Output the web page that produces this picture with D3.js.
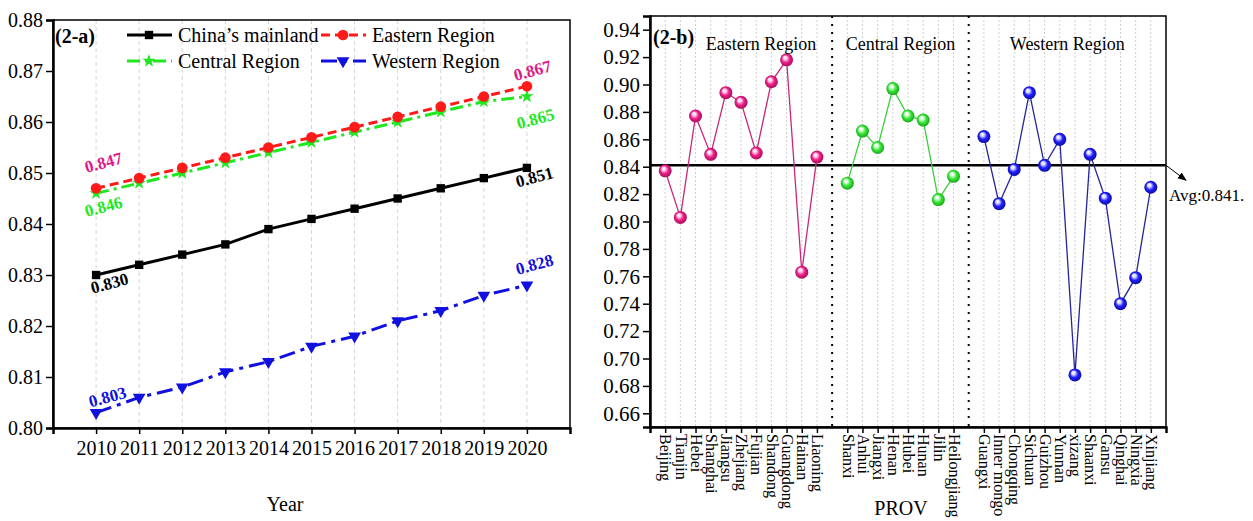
<!DOCTYPE html>
<html>
<head>
<meta charset="utf-8">
<script src="https://cdn.jsdelivr.net/npm/d3@7"></script>
<style>
    body { margin: 0; background: #fff; }
    svg, svg text { font-family: "Liberation Serif", "Times New Roman", serif; }
</style>
</head>
<body>
<svg id="chart" width="1253" height="521"></svg>
<script>
// ---- data: panel (2-a) ----
const years = [2010, 2011, 2012, 2013, 2014, 2015, 2016, 2017, 2018, 2019, 2020];
const mainland = [0.830, 0.832, 0.834, 0.836, 0.839, 0.841, 0.843, 0.845, 0.847, 0.849, 0.851];
const eastern = [0.847, 0.849, 0.851, 0.853, 0.855, 0.857, 0.859, 0.861, 0.863, 0.865, 0.867];
const central = [0.846, 0.848, 0.850, 0.852, 0.854, 0.856, 0.858, 0.860, 0.862, 0.864, 0.865];
const western = [0.803, 0.806, 0.808, 0.811, 0.813, 0.816, 0.818, 0.821, 0.823, 0.826, 0.828];
const yTicksA = [0.80, 0.81, 0.82, 0.83, 0.84, 0.85, 0.86, 0.87, 0.88];

// ---- data: panel (2-b) ----
const eastProv = ["Beijing", "Tianjin", "Hebei", "Shanghai", "Jiangsu", "Zhejiang", "Fujian", "Shandong", "Guangdong", "Hainan", "Liaoning"];
const eastVals = [0.837, 0.803, 0.877, 0.849, 0.894, 0.887, 0.850, 0.902, 0.918, 0.763, 0.847];
const centProv = ["Shanxi", "Anhui", "Jiangxi", "Henan", "Hubei", "Hunan", "Jilin", "Heilongjiang"];
const centVals = [0.828, 0.866, 0.854, 0.897, 0.877, 0.874, 0.816, 0.833];
const westProv = ["Guangxi", "Inner mongo", "Chongqing", "Sichuan", "Guizhou", "Yunnan", "xizang", "Shaanxi", "Gansu", "Qinghai", "Ningxia", "Xinjiang"];
const westVals = [0.862, 0.813, 0.838, 0.894, 0.841, 0.860, 0.688, 0.849, 0.817, 0.740, 0.759, 0.825];
const regionNames = ["Eastern Region", "Central Region", "Western Region"];
const avgValue = 0.841;
const yTicksB = [0.66, 0.68, 0.70, 0.72, 0.74, 0.76, 0.78, 0.80, 0.82, 0.84, 0.86, 0.88, 0.90, 0.92, 0.94];

const FONT = "'Liberation Serif', 'Times New Roman', serif";
const svg = d3.select("#chart");

drawPanelA();
drawPanelB();

function drawPanelA() {
    const left = 53, right = 570, top = 20, bottom = 428;
    const x = d3.scaleLinear().domain([2009, 2021]).range([left, right]);
    const y = d3.scaleLinear().domain([0.80, 0.88]).range([bottom, top]);
    const g = svg.append("g");

    // grid
    g.selectAll("line.grid").data(years).join("line")
        .attr("x1", d => x(d)).attr("x2", d => x(d))
        .attr("y1", top).attr("y2", bottom)
        .attr("stroke", "#d6d6d6").attr("stroke-width", 1)
        .attr("stroke-dasharray", "4,3");

    // frame
    g.append("rect")
        .attr("x", left).attr("y", top)
        .attr("width", right - left).attr("height", bottom - top)
        .attr("fill", "none").attr("stroke", "#000").attr("stroke-width", 1.5);

    const xAxis = g.append("g")
        .attr("transform", `translate(0,${bottom})`)
        .call(d3.axisBottom(x).tickValues(years).tickFormat(d3.format("d")).tickSizeOuter(0).tickSize(6))
        .attr("font-family", FONT);
    xAxis.selectAll("text").attr("font-size", 20).attr("fill", "#000").attr("dy", "0.9em");
    xAxis.select(".domain").attr("stroke-width", 2.5);

    const yAxis = g.append("g")
        .attr("transform", `translate(${left},0)`)
        .call(d3.axisLeft(y).tickValues(yTicksA).tickFormat(d3.format(".2f")).tickSizeOuter(0).tickSize(7))
        .attr("font-family", FONT);
    yAxis.selectAll("text").attr("font-size", 20).attr("fill", "#000");
    yAxis.select(".domain").attr("stroke-width", 2.5);
    g.selectAll(".tick line").attr("stroke-width", 1.5);

    const series = [
        { name: "China\u2019s mainland", vals: mainland, color: "#000", dash: null, marker: "square", labelColor: "#000" },
        { name: "Eastern Region", vals: eastern, color: "#ff1a1a", dash: "9,5", marker: "circle", labelColor: "#e0198a" },
        { name: "Central Region", vals: central, color: "#1ee81e", dash: "13,5,3,5", marker: "star", labelColor: "#1ee81e" },
        { name: "Western Region", vals: western, color: "#1010e0", dash: "16,6,4,6", marker: "triangle", labelColor: "#1010e0" }
    ];
    const symbols = {
        square: d3.symbol(d3.symbolSquare, 70),
        circle: d3.symbol(d3.symbolCircle, 90),
        star: d3.symbol(d3.symbolStar, 55),
        triangle: d3.symbol(d3.symbolTriangle, 70)
    };

    const line = d3.line().x((d, i) => x(years[i])).y(d => y(d));

    // draw back to front: western, mainland, central, eastern
    [3, 0, 2, 1].forEach(k => {
        const s = series[k];
        g.append("path").datum(s.vals)
            .attr("d", line)
            .attr("fill", "none")
            .attr("stroke", s.color)
            .attr("stroke-width", 3)
            .attr("stroke-dasharray", s.dash);
        g.selectAll(null).data(s.vals).join("path")
            .attr("d", symbols[s.marker])
            .attr("transform", (d, i) => `translate(${x(years[i])},${y(d)})` + (s.marker === "triangle" ? " rotate(180)" : ""))
            .attr("fill", s.color);
    });

    // end labels: [series index, point index, dx, dy]
    const labelSpots = [
        [1, 0, 8, -24], [2, 0, 8, 15], [0, 0, 14, 10], [3, 0, 12, -14],
        [1, 10, 6, -14], [2, 10, 9, 24], [0, 10, 8, 11], [3, 10, 8, -19]
    ];
    labelSpots.forEach(([k, i, dx, dy]) => {
        const s = series[k];
        const px = x(years[i]) + dx, py = y(s.vals[i]) + dy;
        g.append("text")
            .attr("transform", `translate(${px},${py}) rotate(-15)`)
            .attr("text-anchor", "middle")
            .attr("dominant-baseline", "middle")
            .attr("font-size", 17).attr("font-weight", "bold")
            .attr("fill", s.labelColor)
            .text(d3.format(".3f")(s.vals[i]));
    });

    // legend
    const legendPos = [[127, 35], [321, 35], [127, 61], [321, 61]];
    series.forEach((s, k) => {
        const [lx, ly] = legendPos[k];
        const lg = g.append("g").attr("transform", `translate(${lx},${ly})`);
        lg.append("line").attr("x1", 0).attr("x2", 45).attr("y1", 0).attr("y2", 0)
            .attr("stroke", s.color).attr("stroke-width", 3).attr("stroke-dasharray", s.dash);
        lg.append("path").attr("d", symbols[s.marker])
            .attr("transform", `translate(22,0)` + (s.marker === "triangle" ? " rotate(180)" : ""))
            .attr("fill", s.color);
        lg.append("text").attr("x", 51).attr("y", 0).attr("dy", "0.33em")
            .attr("font-size", 20).text(s.name);
    });

    g.append("text").attr("x", 55).attr("y", 36).attr("dy", "0.35em")
        .attr("font-size", 20).attr("font-weight", "bold").text("(2-a)");
    g.append("text").attr("x", 285).attr("y", 511).attr("text-anchor", "middle")
        .attr("font-size", 20).text("Year");
}

function drawPanelB() {
    const left = 650, right = 1166, top = 16, bottom = 427;
    const domain = [...eastProv, "|1", ...centProv, "|2", ...westProv];
    const x = d3.scalePoint().domain(domain).range([left, right]).padding(1);
    const y = d3.scaleLinear().domain([0.65, 0.95]).range([bottom, top]);
    const provs = [...eastProv, ...centProv, ...westProv];
    const g = svg.append("g");

    // gradients for balls
    const defs = svg.append("defs");
    const ballColors = [
        { id: "ballE", light: "#ffd0ea", mid: "#f0208a", dark: "#9a0a50" },
        { id: "ballC", light: "#e0ffe0", mid: "#38e838", dark: "#149a14" },
        { id: "ballW", light: "#d8d8ff", mid: "#2020ff", dark: "#0a0a90" }
    ];
    ballColors.forEach(c => {
        const rg = defs.append("radialGradient").attr("id", c.id)
            .attr("cx", "50%").attr("cy", "50%").attr("r", "55%")
            .attr("fx", "35%").attr("fy", "30%");
        rg.append("stop").attr("offset", "0%").attr("stop-color", "#fff");
        rg.append("stop").attr("offset", "25%").attr("stop-color", c.light);
        rg.append("stop").attr("offset", "55%").attr("stop-color", c.mid);
        rg.append("stop").attr("offset", "100%").attr("stop-color", c.dark);
    });

    // grid
    g.selectAll("line.grid").data(provs).join("line")
        .attr("x1", d => x(d)).attr("x2", d => x(d))
        .attr("y1", top).attr("y2", bottom)
        .attr("stroke", "#cfcfcf").attr("stroke-width", 1)
        .attr("stroke-dasharray", "2,2");

    // region dividers
    g.selectAll("line.div").data(["|1", "|2"]).join("line")
        .attr("x1", d => x(d)).attr("x2", d => x(d))
        .attr("y1", top).attr("y2", bottom)
        .attr("stroke", "#000").attr("stroke-width", 2)
        .attr("stroke-dasharray", "2,6");

    // frame
    g.append("rect")
        .attr("x", left).attr("y", top)
        .attr("width", right - left).attr("height", bottom - top)
        .attr("fill", "none").attr("stroke", "#000").attr("stroke-width", 1.5);

    const xAxis = g.append("g")
        .attr("transform", `translate(0,${bottom})`)
        .call(d3.axisBottom(x).tickValues(provs).tickSizeOuter(0).tickSize(6))
        .attr("font-family", FONT);
    xAxis.selectAll("text")
        .attr("font-size", 16).attr("fill", "#000")
        .attr("transform", "rotate(90)")
        .attr("text-anchor", "start")
        .attr("x", 7).attr("y", 0).attr("dy", "0.33em");
    xAxis.select(".domain").attr("stroke-width", 2.5);

    const yAxis = g.append("g")
        .attr("transform", `translate(${left},0)`)
        .call(d3.axisLeft(y).tickValues(yTicksB).tickFormat(d3.format(".2f")).tickSizeOuter(0).tickSize(7))
        .attr("font-family", FONT);
    yAxis.selectAll("text").attr("font-size", 21).attr("fill", "#000");
    yAxis.select(".domain").attr("stroke-width", 2.5);
    g.selectAll(".tick line").attr("stroke-width", 1.5);

    // average line
    g.append("line")
        .attr("x1", left).attr("x2", right)
        .attr("y1", y(avgValue)).attr("y2", y(avgValue))
        .attr("stroke", "#000").attr("stroke-width", 2.5);

    defs.append("marker").attr("id", "arrow")
        .attr("viewBox", "0 0 10 10").attr("refX", 9).attr("refY", 5)
        .attr("markerWidth", 9).attr("markerHeight", 9).attr("orient", "auto")
        .append("path").attr("d", "M0,1 L10,5 L0,9 Z").attr("fill", "#000");
    g.append("line")
        .attr("x1", right).attr("y1", y(avgValue))
        .attr("x2", right + 20).attr("y2", y(avgValue) + 15)
        .attr("stroke", "#000").attr("stroke-width", 1)
        .attr("marker-end", "url(#arrow)");
    g.append("text").attr("x", right + 3).attr("y", y(avgValue) + 36)
        .attr("font-size", 17).text("Avg:" + d3.format(".3f")(avgValue) + ".");

    const groups = [
        { names: eastProv, vals: eastVals, line: "#c8287c", ball: "ballE" },
        { names: centProv, vals: centVals, line: "#3ccf3c", ball: "ballC" },
        { names: westProv, vals: westVals, line: "#24249c", ball: "ballW" }
    ];
    const titleShift = [20, 0, 0];
    groups.forEach((grp, k) => {
        const pts = grp.names.map((n, i) => [x(n), y(grp.vals[i])]);
        g.append("path").datum(pts)
            .attr("d", d3.line())
            .attr("fill", "none").attr("stroke", grp.line).attr("stroke-width", 1.3);
        g.selectAll(null).data(pts).join("circle")
            .attr("cx", d => d[0]).attr("cy", d => d[1]).attr("r", 6.5)
            .attr("fill", `url(#${grp.ball})`);
        const cx = (x(grp.names[0]) + x(grp.names[grp.names.length - 1])) / 2;
        g.append("text").attr("x", cx + titleShift[k]).attr("y", 44).attr("dy", "0.35em")
            .attr("text-anchor", "middle").attr("font-size", 18).text(regionNames[k]);
    });

    g.append("text").attr("x", left + 3).attr("y", 37).attr("dy", "0.35em")
        .attr("font-size", 20).attr("font-weight", "bold").text("(2-b)");
    g.append("text").attr("x", 901).attr("y", 515).attr("text-anchor", "middle")
        .attr("font-size", 20).text("PROV");
}
</script>
</body>
</html>
